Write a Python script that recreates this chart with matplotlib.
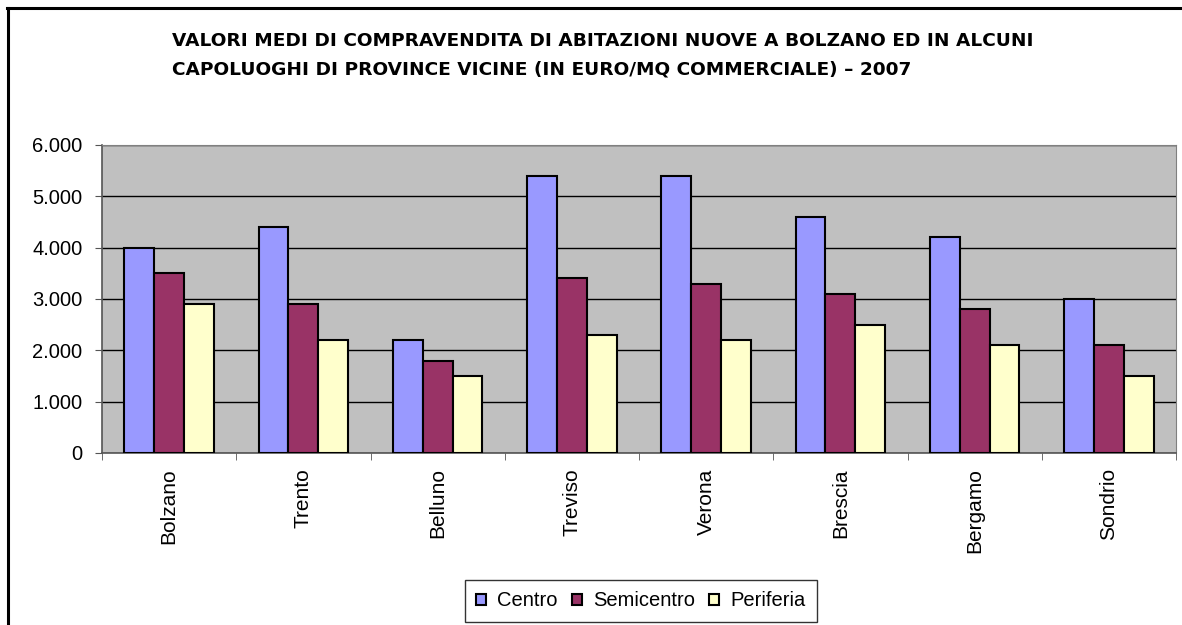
import matplotlib.pyplot as plt
import numpy as np
from matplotlib.lines import Line2D
from matplotlib.ticker import FuncFormatter

plt.rcParams['font.family'] = ['Liberation Sans', 'DejaVu Sans']

cities = ["Bolzano", "Trento", "Belluno", "Treviso", "Verona",
          "Brescia", "Bergamo", "Sondrio"]
centro = [4000, 4400, 2200, 5400, 5400, 4600, 4200, 3000]
semicentro = [3500, 2900, 1800, 3400, 3300, 3100, 2800, 2100]
periferia = [2900, 2200, 1500, 2300, 2200, 2500, 2100, 1500]
series_names = ["Centro", "Semicentro", "Periferia"]
colors = ["#9999FF", "#993366", "#FFFFCC"]

title = ("VALORI MEDI DI COMPRAVENDITA DI ABITAZIONI NUOVE A BOLZANO ED IN ALCUNI\n"
         "CAPOLUOGHI DI PROVINCE VICINE (IN EURO/MQ COMMERCIALE) \u2013 2007")

fig = plt.figure(figsize=(11.82, 6.25), dpi=100)
W, H = 1182, 625
ax = fig.add_axes([102 / W, 1 - 453 / H, (1176 - 102) / W, (453 - 145) / H])
ax.set_facecolor("#C0C0C0")

x = np.arange(len(cities))
w = 0.222
for i, (vals, name) in enumerate(zip([centro, semicentro, periferia], series_names)):
    ax.bar(x + (i - 1) * w, vals, width=w, color=colors[i], edgecolor="black",
           linewidth=1.5, label=name, zorder=3)

ax.set_xlim(-0.5, len(cities) - 0.5)
ax.set_ylim(0, 6000)
ax.set_yticks(np.arange(0, 6001, 1000))
ax.yaxis.set_major_formatter(FuncFormatter(
    lambda v, p: "0" if v == 0 else f"{int(v):,}".replace(",", ".")))
ax.yaxis.grid(True, color="black", linewidth=1, zorder=0)
ax.set_axisbelow(True)

ax.set_xticks(x)
ax.set_xticklabels(cities, rotation=90, fontsize=15)
ax.set_xticks(np.arange(-0.5, len(cities)), minor=True)
ax.tick_params(axis="x", which="major", length=0, pad=11)
ax.tick_params(axis="x", which="minor", length=5, direction="out", color="#555555")
ax.tick_params(axis="y", length=5, direction="out", labelsize=14.5, pad=9,
               color="#555555")

for s in ["top", "right"]:
    ax.spines[s].set_color("#808080")
for s in ["left", "bottom"]:
    ax.spines[s].set_color("#555555")
    ax.spines[s].set_linewidth(1.2)

fig.text(172 / W, 1 - 32 / H, title, fontsize=13.3, fontweight="bold",
         family="DejaVu Sans", ha="left", va="top", linespacing=1.75)

leg = fig.legend(loc="center", bbox_to_anchor=(641 / W, 1 - 601 / H), ncol=3,
                 fontsize=14.5, frameon=True, fancybox=False, handlelength=0.5,
                 handleheight=0.5, handletextpad=0.55, columnspacing=0.7,
                 borderpad=0.55, borderaxespad=0)
leg.get_frame().set_edgecolor("black")
leg.get_frame().set_linewidth(1)

# outer frame: only top and left edges are visible in the original
fig.lines.append(Line2D([8 / W, 8 / W], [0, 1 - 8 / H], transform=fig.transFigure,
                        color="black", linewidth=2.2))
fig.lines.append(Line2D([7 / W, 1], [1 - 8 / H, 1 - 8 / H], transform=fig.transFigure,
                        color="black", linewidth=2.2))

fig.savefig("out.png", dpi=100)
